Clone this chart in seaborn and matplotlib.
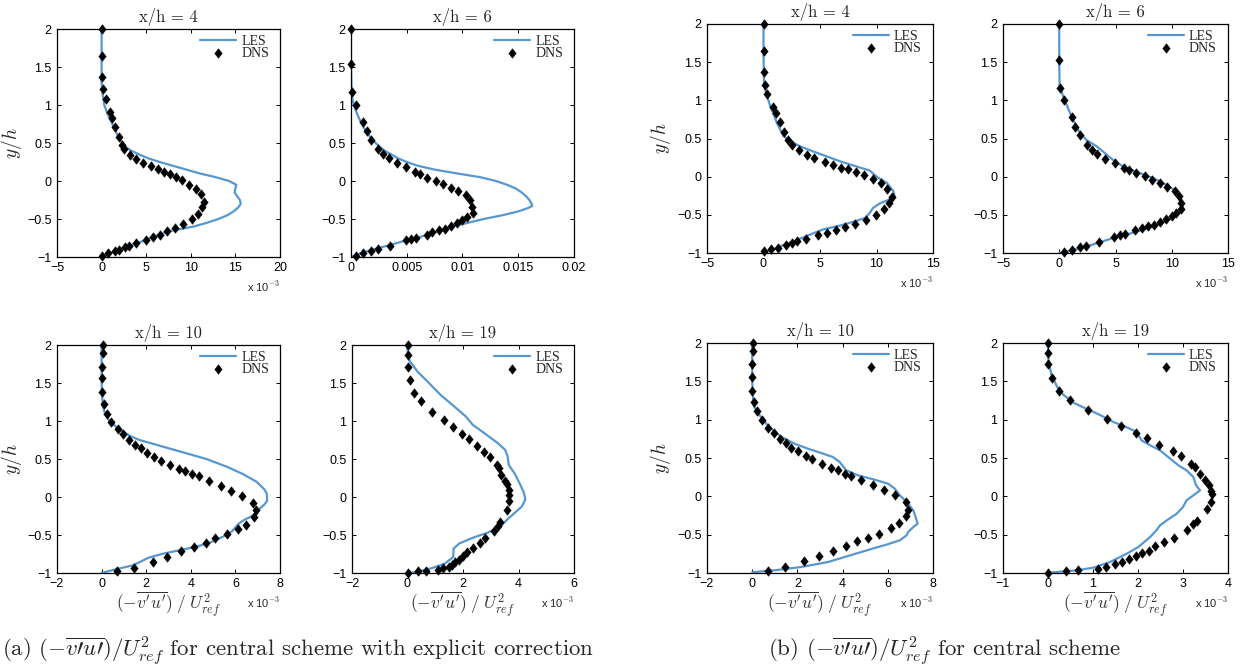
import matplotlib
matplotlib.use("Agg")
import matplotlib.pyplot as plt
import seaborn as sns
from matplotlib.markers import MarkerStyle
from matplotlib.path import Path
from matplotlib.ticker import FixedLocator, FuncFormatter

# ---------------------------------------------------------------------------
# Reynolds shear stress profiles, values of -v'u'/U_ref^2 in units of 1e-3
# ---------------------------------------------------------------------------

# (a) central scheme with explicit correction, x/h = 4
a4_dns_x = [0.1, 0.1, 0.1, 0.2, 0.45, 0.9, 1.2, 1.5, 1.95, 2.25, 2.5, 3.2, 3.9, 4.6, 5.5,
            6.3, 7.0, 7.65, 8.3, 9.0, 9.8, 10.55, 11.1, 11.5, 11.3, 10.8, 10.15, 9.1, 8.2, 7.3,
            6.55, 5.75, 4.95, 3.9, 3.1, 2.6, 2.0, 1.5, 0.7, 0.05]
a4_dns_y = [2.0, 1.65, 1.37, 1.21, 1.08, 0.905, 0.83, 0.71, 0.585, 0.475, 0.415, 0.34, 0.285,
            0.24, 0.195, 0.16, 0.12, 0.09, 0.055, 0.01, -0.055, -0.1, -0.165, -0.27, -0.345,
            -0.43, -0.5, -0.56, -0.62, -0.66, -0.705, -0.74, -0.78, -0.82, -0.855, -0.873,
            -0.905, -0.925, -0.95, -0.985]
a4_les_x = [0.0, 0.0, 0.0, 0.1, 0.3, 0.6, 1.0, 1.4, 1.8, 2.3, 2.7, 3.3, 4.2, 5.2, 6.5, 8.0,
            9.5, 11.0, 12.8, 14.3, 15.1, 15.0, 14.9, 15.2, 15.5, 15.6, 15.3, 14.8, 14.1, 13.1,
            11.8, 10.3, 8.0, 6.6, 5.5, 4.4, 3.2, 2.1, 1.0, 0.0]
a4_les_y = [2.0, 1.6, 1.3, 1.15, 1.0, 0.9, 0.8, 0.7, 0.6, 0.5, 0.45, 0.4, 0.35, 0.3, 0.25,
            0.2, 0.15, 0.1, 0.05, 0.0, -0.05, -0.1, -0.15, -0.2, -0.25, -0.3, -0.35, -0.4,
            -0.45, -0.5, -0.55, -0.6, -0.65, -0.7, -0.75, -0.8, -0.85, -0.9, -0.95, -1.0]

# (a) x/h = 6
a6_dns_x = [0.03, 0.0, 0.12, 0.48, 1.1, 1.46, 1.82, 2.42, 2.9, 3.4, 4.1, 4.93, 5.73, 6.18,
            6.84, 7.58, 8.24, 8.98, 9.6, 10.3, 10.7, 10.87, 10.9, 10.4, 10.0, 9.5, 8.96, 8.4,
            7.9, 7.3, 6.8, 5.85, 5.4, 4.95, 3.52, 2.42, 1.76, 1.07, 0.42]
a6_dns_y = [2.0, 1.54, 1.165, 1.0, 0.78, 0.655, 0.54, 0.415, 0.35, 0.297, 0.236, 0.18, 0.12,
            0.09, 0.046, 0.0, -0.04, -0.09, -0.134, -0.187, -0.248, -0.345, -0.415, -0.47,
            -0.516, -0.556, -0.59, -0.635, -0.65, -0.67, -0.71, -0.75, -0.762, -0.78, -0.855,
            -0.895, -0.92, -0.95, -0.987]
a6_les_x = [0.0, 0.0, 0.05, 0.1, 0.25, 0.5, 0.8, 1.15, 1.6, 2.2, 3.0, 4.2, 5.0, 6.0, 7.5, 9.5,
            11.6, 13.0, 14.0, 14.8, 15.3, 15.7, 16.0, 16.2, 16.25, 15.8, 15.0, 13.6, 11.9,
            10.5, 9.0, 8.0, 7.0, 5.9, 4.5, 3.3, 2.0, 0.9, 0.0]
a6_les_y = [2.0, 1.5, 1.2, 1.1, 1.0, 0.9, 0.8, 0.7, 0.6, 0.5, 0.4, 0.3, 0.25, 0.2, 0.15, 0.1,
            0.05, 0.0, -0.05, -0.1, -0.15, -0.2, -0.25, -0.3, -0.33, -0.36, -0.4, -0.45,
            -0.5, -0.55, -0.6, -0.65, -0.7, -0.75, -0.8, -0.85, -0.9, -0.95, -1.0]

# (a) x/h = 10
a10_dns_x = [0.05, 0.05, 0.0, 0.03, 0.03, 0.1, 0.22, 0.43, 0.72, 0.95, 1.24, 1.49, 1.75,
             2.03, 2.36, 2.66, 3.07, 3.46, 3.76, 4.07, 4.36, 4.8, 5.34, 5.8, 6.31, 6.79, 6.91,
             6.82, 6.48, 6.1, 5.61, 5.1, 4.67, 4.15, 3.57, 2.94, 2.3, 1.45, 0.69]
a10_dns_y = [2.0, 1.9, 1.71, 1.56, 1.38, 1.22, 1.095, 0.99, 0.9, 0.83, 0.745, 0.68, 0.64,
             0.585, 0.53, 0.48, 0.42, 0.365, 0.34, 0.3, 0.27, 0.205, 0.145, 0.08, 0.013,
             -0.08, -0.175, -0.26, -0.365, -0.42, -0.49, -0.545, -0.6, -0.66, -0.71, -0.79,
             -0.855, -0.93, -0.98]
a10_les_x = [0.0, 0.0, 0.05, 0.15, 0.35, 0.75, 1.3, 1.7, 2.3, 2.9, 3.5, 4.1, 4.7, 5.15, 5.6,
             6.35, 6.95, 7.3, 7.4, 7.42, 7.42, 7.3, 7.1, 6.95, 6.75, 6.4, 6.15, 6.0, 5.85,
             5.6, 5.25, 4.85, 4.3, 3.5, 2.7, 2.1, 1.75, 1.4, 0.65, 0.0]
a10_les_y = [2.0, 1.5, 1.2, 1.1, 1.0, 0.9, 0.8, 0.75, 0.7, 0.65, 0.6, 0.55, 0.5, 0.45, 0.4,
             0.3, 0.2, 0.1, 0.05, 0.0, -0.05, -0.1, -0.15, -0.2, -0.25, -0.3, -0.35, -0.4,
             -0.45, -0.5, -0.55, -0.6, -0.65, -0.7, -0.75, -0.8, -0.85, -0.9, -0.95, -1.0]

# (a) x/h = 19
a19_dns_x = [0.0, 0.0, 0.0, 0.08, 0.25, 0.49, 0.9, 1.31, 1.63, 1.96, 2.22, 2.5, 2.77, 2.98,
             3.23, 3.31, 3.37, 3.51, 3.58, 3.65, 3.66, 3.64, 3.57, 3.34, 3.25, 3.1, 2.8, 2.6,
             2.37, 2.16, 2.0, 1.84, 1.72, 1.6, 1.48, 1.28, 1.11, 0.66, 0.39, 0.0]
a19_dns_y = [2.0, 1.87, 1.71, 1.535, 1.37, 1.26, 1.125, 1.01, 0.925, 0.83, 0.765, 0.675, 0.59,
             0.52, 0.42, 0.38, 0.295, 0.21, 0.17, 0.09, 0.025, -0.05, -0.165, -0.33, -0.375,
             -0.445, -0.545, -0.61, -0.67, -0.73, -0.78, -0.83, -0.86, -0.89, -0.92, -0.94,
             -0.955, -0.975, -0.98, -1.0]
a19_les_x = [0.0, 0.0, 0.06, 0.36, 0.72, 1.2, 1.69, 2.1, 2.35, 2.77, 3.25, 3.52, 3.61, 3.65,
             3.86, 4.04, 4.19, 4.25, 4.12, 3.86, 3.61, 3.37, 2.89, 2.4, 1.87, 1.66, 1.65,
             1.33, 0.84, 0.24, 0.0]
a19_les_y = [2.0, 1.93, 1.8, 1.65, 1.52, 1.34, 1.19, 1.06, 0.95, 0.84, 0.71, 0.62, 0.53, 0.42,
             0.31, 0.18, 0.06, -0.03, -0.125, -0.21, -0.29, -0.38, -0.47, -0.53, -0.61,
             -0.68, -0.79, -0.88, -0.94, -0.99, -1.0]

# (b) central scheme, x/h = 4
b4_dns_x = [0.06, 0.03, 0.03, 0.12, 0.35, 0.88, 1.09, 1.44, 1.79, 2.15, 2.53, 3.15, 3.82, 4.47,
            5.41, 6.12, 6.85, 7.5, 8.18, 8.85, 9.7, 10.44, 10.97, 11.35, 11.15, 10.68, 9.94,
            9.03, 8.12, 7.24, 6.38, 5.65, 4.8, 3.76, 3.0, 2.53, 1.97, 1.29, 0.7, 0.0]
b4_dns_y = [2.0, 1.65, 1.37, 1.205, 1.085, 0.91, 0.83, 0.72, 0.59, 0.48, 0.415, 0.345, 0.28,
            0.24, 0.19, 0.155, 0.12, 0.095, 0.06, 0.025, -0.03, -0.085, -0.16, -0.26, -0.345,
            -0.43, -0.5, -0.565, -0.615, -0.66, -0.695, -0.74, -0.77, -0.815, -0.845, -0.87,
            -0.9, -0.93, -0.95, -0.98]
b4_les_x = [0.0, 0.0, 0.05, 0.15, 0.6, 1.2, 1.76, 2.35, 3.2, 4.4, 5.6, 6.8, 8.2, 9.4, 10.0,
            10.9, 11.5, 11.6, 11.3, 10.3, 9.7, 9.4, 9.0, 8.2, 6.8, 5.3, 4.1, 2.6, 1.5, 0.6, 0.0]
b4_les_y = [2.0, 1.6, 1.2, 1.14, 0.92, 0.7, 0.53, 0.47, 0.4, 0.33, 0.265, 0.2, 0.135, 0.08,
            0.0, -0.08, -0.19, -0.26, -0.29, -0.35, -0.41, -0.475, -0.54, -0.58, -0.64, -0.69,
            -0.76, -0.85, -0.91, -0.97, -1.0]

# (b) x/h = 6
b6_dns_x = [0.0, 0.0, 0.09, 0.41, 1.09, 1.42, 1.83, 2.45, 2.9, 3.36, 4.1, 4.93, 5.72, 6.17,
            6.81, 7.58, 8.23, 8.97, 9.56, 10.27, 10.65, 10.83, 10.83, 10.41, 10.0, 9.53, 8.97,
            8.44, 7.88, 7.32, 6.76, 5.87, 5.4, 4.9, 3.54, 2.42, 1.8, 1.09, 0.41]
b6_dns_y = [2.0, 1.53, 1.16, 1.0, 0.78, 0.655, 0.545, 0.415, 0.35, 0.3, 0.235, 0.175, 0.113,
            0.09, 0.048, 0.004, -0.04, -0.087, -0.131, -0.19, -0.25, -0.345, -0.43, -0.475,
            -0.51, -0.555, -0.59, -0.63, -0.65, -0.675, -0.7, -0.75, -0.76, -0.79, -0.855,
            -0.905, -0.92, -0.96, -0.99]
b6_les_x = [0.0, 0.0, 0.03, 0.35, 1.09, 1.83, 2.42, 3.3, 4.04, 4.78, 5.66, 6.84, 8.32, 9.5,
            10.4, 10.8, 10.97, 10.68, 10.09, 9.2, 8.02, 6.55, 5.07, 3.6, 2.4, 1.24, 0.0]
b6_les_y = [2.0, 1.5, 1.2, 1.05, 0.79, 0.57, 0.48, 0.4, 0.31, 0.22, 0.135, 0.065, -0.017,
            -0.105, -0.19, -0.29, -0.39, -0.475, -0.54, -0.605, -0.67, -0.735, -0.79, -0.86,
            -0.915, -0.96, -1.0]

# (b) x/h = 10
b10_dns_x = [0.03, 0.03, 0.0, 0.01, 0.01, 0.1, 0.22, 0.44, 0.7, 0.95, 1.23, 1.5, 1.73, 2.01,
             2.36, 2.64, 3.08, 3.47, 3.78, 4.09, 4.37, 4.8, 5.35, 5.82, 6.33, 6.79, 6.89, 6.81,
             6.5, 6.12, 5.6, 5.13, 4.65, 4.16, 3.57, 2.95, 2.31, 1.45, 0.68]
b10_dns_y = [2.0, 1.9, 1.72, 1.56, 1.38, 1.235, 1.11, 1.0, 0.895, 0.83, 0.75, 0.69, 0.635,
             0.587, 0.53, 0.483, 0.42, 0.365, 0.343, 0.296, 0.27, 0.209, 0.143, 0.078, 0.013,
             -0.078, -0.174, -0.257, -0.348, -0.417, -0.487, -0.548, -0.587, -0.643, -0.709,
             -0.783, -0.843, -0.926, -0.97]
b10_les_x = [0.0, 0.0, 0.05, 0.09, 0.39, 0.76, 1.27, 1.87, 2.46, 3.05, 3.57, 3.87, 4.16, 4.68,
             5.42, 6.01, 6.31, 6.53, 6.76, 6.9, 7.13, 7.23, 7.32, 7.13, 6.9, 6.83, 6.53, 5.94,
             5.27, 4.39, 3.35, 2.16, 0.98, 0.0]
b10_les_y = [2.0, 1.5, 1.2, 1.165, 1.03, 0.9, 0.78, 0.687, 0.622, 0.565, 0.513, 0.448, 0.339,
             0.274, 0.217, 0.165, 0.1, 0.013, -0.052, -0.096, -0.183, -0.27, -0.357, -0.4,
             -0.465, -0.509, -0.574, -0.63, -0.687, -0.765, -0.857, -0.922, -0.965, -0.99]

# (b) x/h = 19
b19_dns_x = [0.0, 0.01, 0.01, 0.09, 0.25, 0.49, 0.89, 1.31, 1.62, 1.96, 2.2, 2.47, 2.77, 2.95,
             3.17, 3.27, 3.38, 3.49, 3.57, 3.63, 3.65, 3.62, 3.54, 3.31, 3.23, 3.08, 2.81,
             2.58, 2.38, 2.24, 2.09, 1.95, 1.79, 1.64, 1.49, 1.28, 1.12, 0.66, 0.4, 0.0]
b19_dns_y = [2.0, 1.87, 1.72, 1.545, 1.375, 1.26, 1.13, 1.01, 0.92, 0.826, 0.76, 0.674, 0.587,
             0.52, 0.42, 0.383, 0.296, 0.213, 0.143, 0.07, 0.026, -0.074, -0.16, -0.322,
             -0.365, -0.44, -0.54, -0.59, -0.652, -0.709, -0.74, -0.778, -0.822, -0.857,
             -0.878, -0.917, -0.943, -0.965, -0.978, -1.0]
b19_les_x = [0.0, 0.0, 0.07, 0.2, 0.35, 0.57, 0.86, 1.16, 1.45, 1.75, 1.97, 2.08, 2.27, 2.49,
             2.67, 2.9, 3.08, 3.23, 3.29, 3.38, 3.23, 3.08, 3.0, 2.86, 2.64, 2.49, 2.41, 2.27,
             2.01, 1.75, 1.38, 1.01, 0.64, 0.13, 0.0]
b19_les_y = [2.0, 1.82, 1.6, 1.43, 1.32, 1.22, 1.14, 1.06, 0.97, 0.9, 0.84, 0.73, 0.665, 0.6,
             0.513, 0.404, 0.339, 0.252, 0.143, 0.078, 0.013, -0.052, -0.139, -0.226, -0.313,
             -0.378, -0.443, -0.53, -0.66, -0.748, -0.857, -0.93, -0.965, -0.99, -1.0]

# Axis ticks (x in units of 1e-3)
y_ticks = [-1, -0.5, 0, 0.5, 1, 1.5, 2]
xt_4a = [-5, 0, 5, 10, 15, 20]
xt_6a = [0, 5, 10, 15, 20]
xt_10 = [-2, 0, 2, 4, 6, 8]
xt_19a = [-2, 0, 2, 4, 6]
xt_4b = [-5, 0, 5, 10, 15]
xt_19b = [-1, 0, 1, 2, 3, 4]

titles = ["x/h = 4", "x/h = 6", "x/h = 10", "x/h = 19"]
captions = [
    r"(a) $(-\overline{v\prime u\prime})/U^2_{ref}$ for central scheme with explicit correction",
    r"(b) $(-\overline{v\prime u\prime})/U^2_{ref}$ for central scheme",
]

# ---------------------------------------------------------------------------
# Styling
# ---------------------------------------------------------------------------
sns.set_theme(style="ticks")
plt.rcParams.update({
    "font.family": ["Liberation Sans", "DejaVu Sans"],
    "mathtext.fontset": "cm",
    "axes.edgecolor": "black",
    "axes.linewidth": 0.9,
    "xtick.direction": "in",
    "ytick.direction": "in",
    "xtick.top": True,
    "ytick.right": True,
    "xtick.major.size": 3.0,
    "ytick.major.size": 3.0,
    "xtick.major.width": 0.7,
    "ytick.major.width": 0.7,
    "xtick.major.pad": 3.5,
    "ytick.major.pad": 4.0,
    "xtick.labelsize": 9,
    "ytick.labelsize": 9,
    "xtick.color": "black",
    "ytick.color": "black",
    "axes.unicode_minus": True,
})

LES_COLOR = "#5797d0"
W, H = 1242, 671

DIAMOND = MarkerStyle(Path([(0, 1), (0.78, 0), (0, -1), (-0.78, 0), (0, 1)],
                           [Path.MOVETO, Path.LINETO, Path.LINETO, Path.LINETO, Path.CLOSEPOLY]))


def frame(left, right, top, bottom):
    return [left / W, 1 - bottom / H, (right - left) / W, (bottom - top) / H]


def minus_fmt(v, pos):
    return f"{v:g}".replace("-", "\u2212")


def milli_fmt(v, pos):
    return f"{v * 1e-3:g}".replace("-", "\u2212")


panels = [
    # rect, title, dns x/y, les x/y, xticks, plain (no x10^-3), y label, x label
    (frame(57, 280, 29, 257), titles[0], a4_dns_x, a4_dns_y, a4_les_x, a4_les_y, xt_4a, False, True, False),
    (frame(351, 574, 29, 257), titles[1], a6_dns_x, a6_dns_y, a6_les_x, a6_les_y, xt_6a, True, False, False),
    (frame(57, 280, 345, 573), titles[2], a10_dns_x, a10_dns_y, a10_les_x, a10_les_y, xt_10, False, True, True),
    (frame(352, 574, 345, 573), titles[3], a19_dns_x, a19_dns_y, a19_les_x, a19_les_y, xt_19a, False, False, True),
    (frame(707, 933, 24, 253), titles[0], b4_dns_x, b4_dns_y, b4_les_x, b4_les_y, xt_4b, False, True, False),
    (frame(1003, 1228, 24, 253), titles[1], b6_dns_x, b6_dns_y, b6_les_x, b6_les_y, xt_4b, False, False, False),
    (frame(707, 933, 343, 573), titles[2], b10_dns_x, b10_dns_y, b10_les_x, b10_les_y, xt_10, False, True, True),
    (frame(1003, 1228, 343, 573), titles[3], b19_dns_x, b19_dns_y, b19_les_x, b19_les_y, xt_19b, False, False, True),
]

fig = plt.figure(figsize=(W / 100, H / 100), dpi=100)
fig.patch.set_facecolor("white")

for rect, title, dx, dy, lx, ly, xt, plain, ylab, xlab in panels:
    ax = fig.add_axes(rect)
    sns.lineplot(x=lx, y=ly, sort=False, estimator=None, color=LES_COLOR,
                 linewidth=1.6, ax=ax, legend=False, zorder=2)
    sns.scatterplot(x=dx, y=dy, marker=DIAMOND, s=48, color="black", edgecolor="black",
                    linewidth=0.3, ax=ax, legend=False, zorder=3, clip_on=False)

    ax.set_xlim(xt[0], xt[-1])
    ax.set_ylim(-1, 2)
    ax.xaxis.set_major_locator(FixedLocator(xt))
    ax.yaxis.set_major_locator(FixedLocator(y_ticks))
    ax.xaxis.set_major_formatter(FuncFormatter(milli_fmt if plain else minus_fmt))
    ax.yaxis.set_major_formatter(FuncFormatter(minus_fmt))
    ax.set_xlabel("")
    ax.set_ylabel("")
    for sp in ax.spines.values():
        sp.set_visible(True)
        sp.set_color("black")

    ax.set_title(title, fontfamily="cmr10", fontsize=12, pad=5)

    if not plain:
        ax.text(1.0, -0.13, r"x 10$^{\mathsf{-3}}$", transform=ax.transAxes,
                ha="right", va="center", fontsize=8)
    if ylab:
        ax.set_ylabel(r"$y/h$", fontsize=14)
        ax.yaxis.set_label_coords(-0.15, 0.5)
    if xlab:
        ax.set_xlabel(r"$(-\overline{v^{\prime}u^{\prime}})\;/\;U^2_{ref}$", fontsize=12.5,
                      color="#333333")
        ax.xaxis.set_label_coords(0.5, -0.07)

    ax.legend([ax.lines[-1], ax.collections[-1]], ["LES", "DNS"], loc="upper right",
              bbox_to_anchor=(1 - 11 / 223, 1 - 6 / 228), borderaxespad=0, borderpad=0,
              frameon=False, handlelength=2.6, handletextpad=0.35, labelspacing=-0.1,
              scatterpoints=1, prop={"family": "Liberation Serif", "size": 10})

fig.text(2 / W, 1 - 651 / H, captions[0], fontfamily="cmr10", fontsize=16.5, va="center", ha="left")
fig.text(768 / W, 1 - 651 / H, captions[1], fontfamily="cmr10", fontsize=16.5, va="center", ha="left")

fig.savefig("out.png", dpi=100, facecolor="white")
